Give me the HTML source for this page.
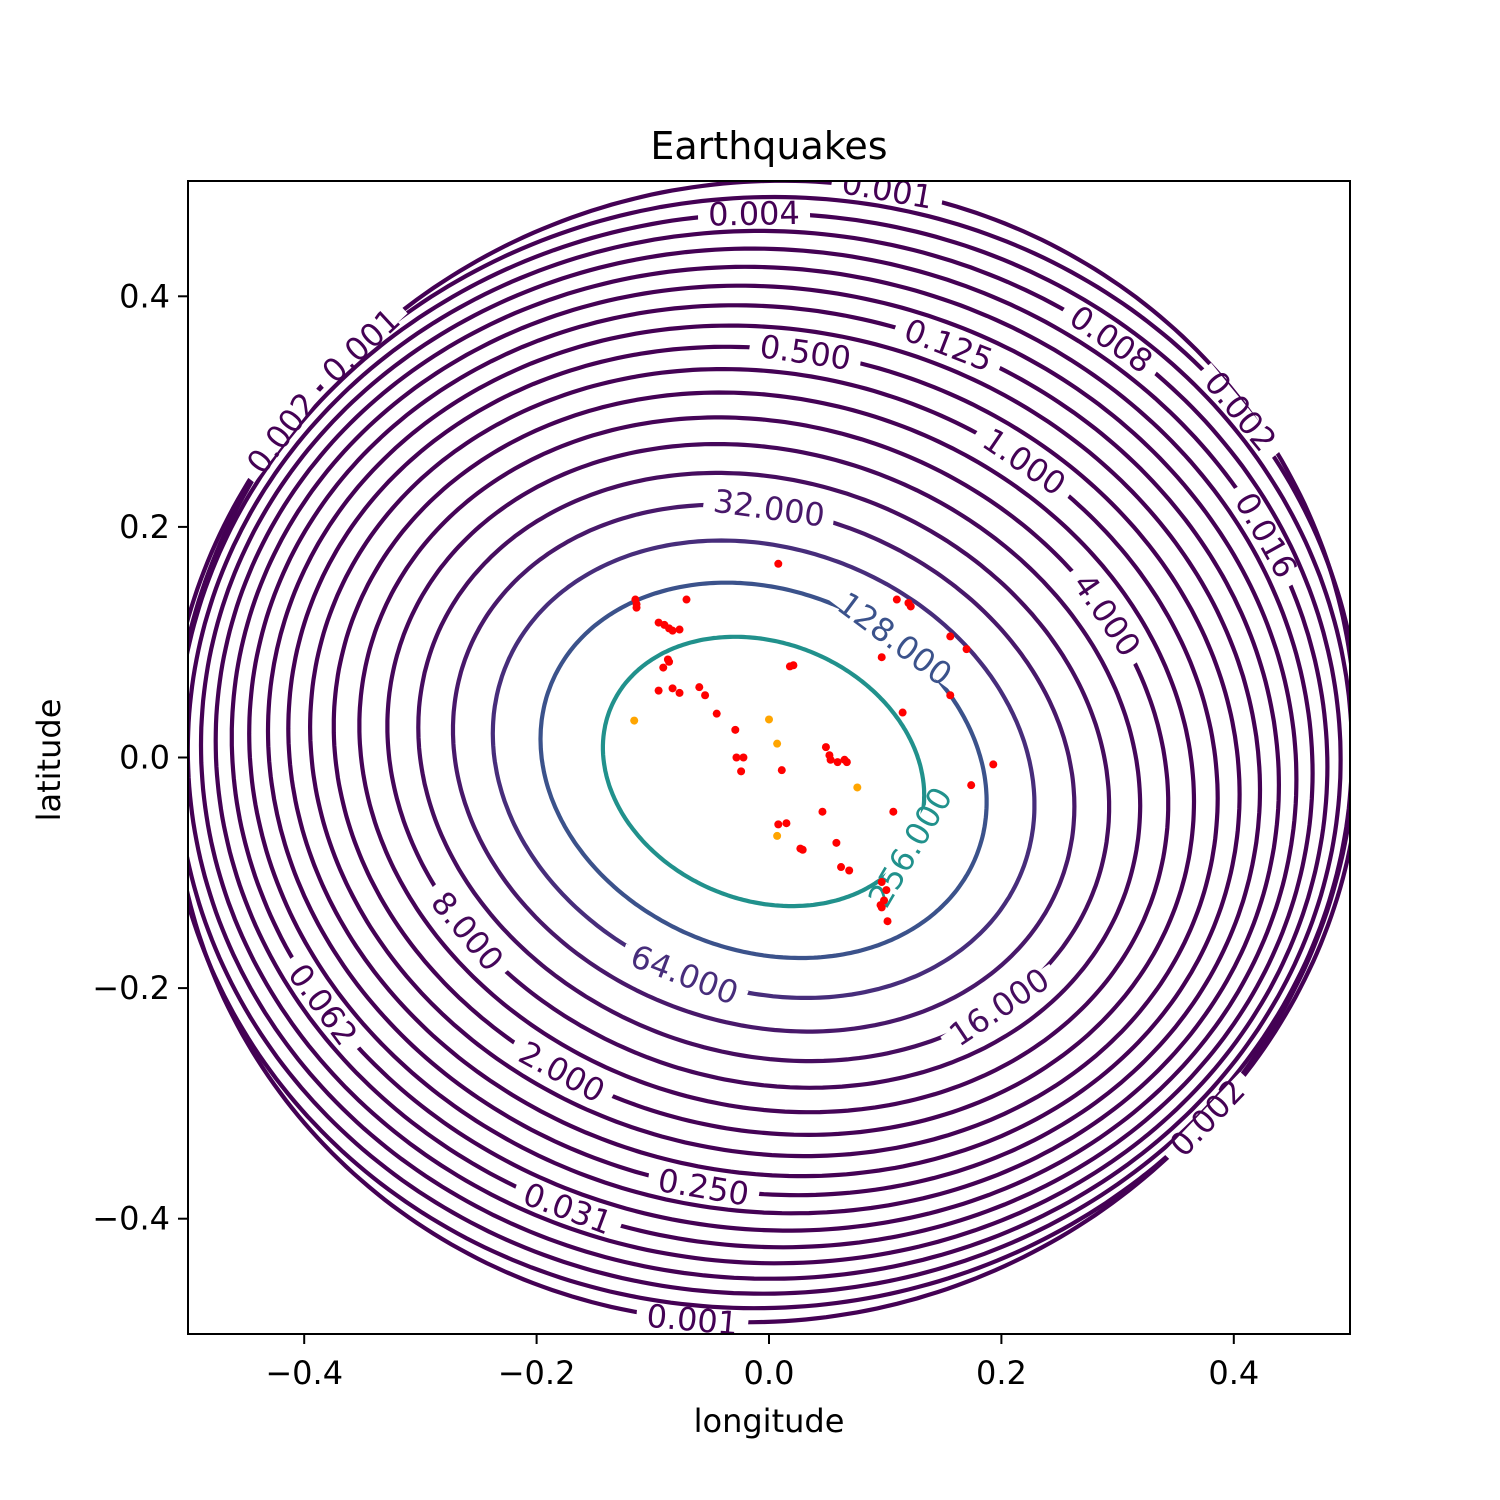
<!DOCTYPE html>
<html><head><meta charset="utf-8">
<style>
html,body{margin:0;padding:0;background:#fff;}
svg{display:block;font-family:"DejaVu Sans","Liberation Sans",sans-serif;}
</style></head>
<body>
<svg id="chart" width="1500" height="1500" viewBox="0 0 1500 1500" xmlns="http://www.w3.org/2000/svg">
  <rect width="1500" height="1500" fill="#fff"/>
  <defs><clipPath id="plotclip"><rect x="188" y="181" width="1162" height="1153"/></clipPath></defs>
  <text x="769" y="159" font-size="38" text-anchor="middle">Earthquakes</text>
  <g id="contours" clip-path="url(#plotclip)"></g>
  <g id="labels" clip-path="url(#plotclip)"></g>
  <g id="points" clip-path="url(#plotclip)"></g>
  <rect x="188" y="181" width="1162" height="1153" fill="none" stroke="#000" stroke-width="2"/>
  <g id="axes"></g>
  <text x="769" y="1432" font-size="32" text-anchor="middle">longitude</text>
  <text x="60" y="760" font-size="32" text-anchor="middle" transform="rotate(-90 60 760)">latitude</text>
</svg>
<script>
// ---- data ----
const levels = [0.0009765625,0.001953125,0.00390625,0.0078125,0.015625,0.03125,0.0625,0.125,0.25,0.5,1,2,4,8,16,32,64,128,256];
const levelLabels = ["0.001","0.002","0.004","0.008","0.016","0.031","0.062","0.125","0.250","0.500","1.000","2.000","4.000","8.000","16.000","32.000","64.000","128.000","256.000"];
const peakDensity = 534;
const sigmaLonInner = 0.1140;
const sigmaLonOuter = 0.0990;
const sigmaLat = 0.0963;
const centerInner = [-0.0047, -0.0121];
const centerOuter = [-0.0040, 0.0052];
const slopeInner = -0.21;
const slopeOuter = 0.03;
const redLon = [0.008,-0.115,-0.114,-0.114,-0.095,-0.090,-0.086,-0.083,-0.077,-0.071,-0.091,-0.086,-0.087,-0.095,-0.083,-0.077,-0.060,-0.055,-0.045,-0.029,-0.028,-0.022,-0.024,0.011,0.008,0.015,0.021,0.018,0.049,0.052,0.053,0.059,0.065,0.067,0.058,0.062,0.069,0.046,0.027,0.029,0.097,0.110,0.120,0.122,0.115,0.156,0.170,0.156,0.107,0.174,0.193,0.097,0.101,0.099,0.097,0.102,0.096];
const redLat = [0.168,0.137,0.133,0.130,0.117,0.115,0.112,0.110,0.111,0.137,0.078,0.083,0.085,0.058,0.060,0.056,0.061,0.054,0.038,0.024,0.000,0.000,-0.012,-0.011,-0.058,-0.057,0.080,0.079,0.009,0.002,-0.002,-0.004,-0.002,-0.004,-0.074,-0.095,-0.098,-0.047,-0.079,-0.080,0.087,0.137,0.134,0.131,0.039,0.105,0.094,0.054,-0.047,-0.024,-0.006,-0.108,-0.115,-0.124,-0.130,-0.142,-0.128];
const orangeLon = [-0.116,0.000,0.007,0.007,0.076];
const orangeLat = [0.032,0.033,0.012,-0.068,-0.026];
const xTicks = [-0.4,-0.2,0.0,0.2,0.4];
const yTicks = [-0.4,-0.2,0.0,0.2,0.4];
const tickLabels = ["\u22120.4","\u22120.2","0.0","0.2","0.4"];
// label anchor hints (pixel) per level: [levelIndex, px, py]
const labelHints = [[0,888,193],[0,322,308],[0,690,1305],[1,258,415],[1,1230,418],[1,1218,1133],[2,752,203],[3,1110,345],[4,1252,548],[5,573,1200],[6,327,1000],[7,950,335],[8,700,1183],[9,803,340],[10,1032,453],[11,557,1075],[12,1106,612],[13,465,937],[14,995,998],[15,771,495],[16,684,977],[17,905,627],[18,905,845]];

// ---- axes ----
const X0=188,X1=1350,Y0=181,Y1=1334;
const sx = v => X0 + (v+0.5)*(X1-X0);
const sy = v => Y1 - (v+0.5)*(Y1-Y0);
const NS="http://www.w3.org/2000/svg";
function mk(tag, attrs, parent){const e=document.createElementNS(NS,tag);for(const k in attrs)e.setAttribute(k,attrs[k]);parent.appendChild(e);return e;}

const stops=[[0,"#440154"],[0.0625,"#48186a"],[0.125,"#472d7b"],[0.1875,"#424086"],[0.25,"#3b528b"],[0.3125,"#33638d"],[0.375,"#2c728e"],[0.4375,"#26828e"],[0.5,"#21918c"],[1,"#fde725"]];
function hex(h){return [1,3,5].map(i=>parseInt(h.substr(i,2),16));}
function viridis(t){for(let i=0;i<stops.length-1;i++){if(t<=stops[i+1][0]){const f=(t-stops[i][0])/(stops[i+1][0]-stops[i][0]);const a=hex(stops[i][1]),b=hex(stops[i+1][1]);return "rgb("+a.map((v,j)=>Math.round(v+(b[j]-v)*f)).join(",")+")";}}return stops[stops.length-1][1];}

const axes=document.getElementById('axes');
xTicks.forEach((v,i)=>{
  const t=mk('line',{x1:sx(v),x2:sx(v),y1:Y1,y2:Y1+10,stroke:'#000','stroke-width':2},axes);
  
  
  const l=mk('text',{x:sx(v),y:Y1+50,'font-size':32,'text-anchor':'middle'},axes);
  l.textContent=tickLabels[i];
  
  
});
yTicks.forEach((v,i)=>{
  const t=mk('line',{x1:X0-10,x2:X0,y1:sy(v),y2:sy(v),stroke:'#000','stroke-width':2},axes);
  
  
  const l=mk('text',{x:X0-18,y:sy(v)+11,'font-size':32,'text-anchor':'end'},axes);
  l.textContent=tickLabels[i];
  
  
});

// ---- contours ----
const N=levels.length;
function ellipse(k){
  const f=k/(N-1);
  const cx=centerOuter[0]+(centerInner[0]-centerOuter[0])*f;
  const cy=centerOuter[1]+(centerInner[1]-centerOuter[1])*f;
  const b=slopeOuter+(slopeInner-slopeOuter)*f;
  const sLon=sigmaLonOuter+(sigmaLonInner-sigmaLonOuter)*Math.sqrt(f);
  const Q=2*Math.log(peakDensity/levels[k]);
  const sxy=b*sigmaLat*sigmaLat;
  const L11=sLon, L21=sxy/sLon, L22=Math.sqrt(sigmaLat*sigmaLat-L21*L21);
  const r=Math.sqrt(Q);
  const pts=[];
  for(let i=0;i<=360;i++){const t=i/360*2*Math.PI;const c=Math.cos(t),s=Math.sin(t);
    pts.push([sx(cx+r*L11*c), sy(cy+r*(L21*c+L22*s))]);}
  return pts;
}
const cg=document.getElementById('contours');
const ellipses=[];
for(let k=0;k<N;k++){
  const pts=ellipse(k);ellipses.push(pts);
  const p=mk('path',{d:'M'+pts.map(q=>q[0].toFixed(1)+','+q[1].toFixed(1)).join('L')+'Z',fill:'none',stroke:viridis(levels[k]/512),'stroke-width':4.2},cg);
  
  
}
const lg=document.getElementById('labels');
labelHints.forEach(h=>{
  const k=h[0],pts=ellipses[k];
  let bi=0,bd=1e9;
  pts.forEach((q,i)=>{const d=(q[0]-h[1])**2+(q[1]-h[2])**2;if(d<bd){bd=d;bi=i;}});
  const p=pts[bi],a=pts[(bi+358)%360],c=pts[(bi+2)%360];
  let ang=Math.atan2(c[1]-a[1],c[0]-a[0])*180/Math.PI;
  if(ang>90)ang-=180; if(ang<=-90)ang+=180;
  const g=mk('g',{transform:`translate(${p[0].toFixed(1)},${p[1].toFixed(1)}) rotate(${ang.toFixed(1)})`},lg);
  
  
  const w=levelLabels[k].length*0.6*32+16;
  mk('rect',{x:-w/2,y:-8,width:w,height:16,fill:'#fff'},g);
  const t=mk('text',{x:0,y:11,'font-size':32,'text-anchor':'middle',fill:viridis(levels[k]/512)},g);
  t.textContent=levelLabels[k];
});

// ---- points ----
const pg=document.getElementById('points');
redLon.forEach((v,i)=>{
  const c=mk('circle',{cx:sx(v),cy:sy(redLat[i]),r:4,fill:'#ff0000'},pg);
  
  
});
orangeLon.forEach((v,i)=>{
  const c=mk('circle',{cx:sx(v),cy:sy(orangeLat[i]),r:4,fill:'#ffa500'},pg);
  
  
});
</script>
</body></html>
